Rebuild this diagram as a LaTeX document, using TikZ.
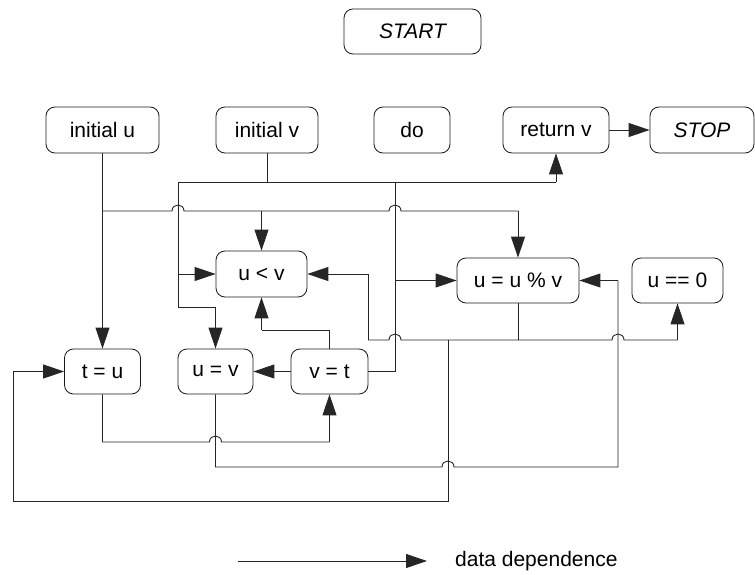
\documentclass[tikz,border=0pt]{standalone}
\usepackage{fontspec}
\setmainfont{Liberation Sans}
\usetikzlibrary{arrows.meta}
\newcommand\hh[2]{-- ({#1-6},#2) .. controls ({#1-6},{#2-8}) and ({#1+6},{#2-8}) .. ({#1+6},#2)}
\begin{document}
\begin{tikzpicture}[x=1pt,y=-1pt,
  box/.style={draw=black!90, rounded corners=9pt, minimum height=45pt, inner sep=0pt,
    font=\fontsize{21}{25}\selectfont, line width=0.8pt},
  link/.style={line width=0.9pt, draw=black!85},
  arr/.style={link, -{Triangle[length=21pt,width=14pt]}},
]
\useasboundingbox (0,0) rectangle (755,575);
% nodes
\node[box, minimum width=137pt] (start) at (412.5,31.5) {\itshape START};
\node[box, minimum width=113pt, minimum height=46pt] (iu) at (102.5,130) {initial u};
\node[box, minimum width=102pt, minimum height=46pt] (iv) at (267,130) {initial v};
\node[box, minimum width=76pt, minimum height=46pt] (do) at (412,130) {do};
\node[box, minimum width=106pt, minimum height=46pt] (ret) at (556,130) {return v};
\node[box, minimum width=104pt, minimum height=46pt] (stop) at (702,130) {\itshape STOP};
\node[box, minimum width=91pt, minimum height=46pt] (ult) at (261.5,274) {u < v};
\node[box, minimum width=122pt] (umod) at (518,280.5) {u = u \% v};
\node[box, minimum width=91pt] (ueq) at (677.5,280.5) {u == 0};
\node[box, minimum width=76pt] (tu) at (102.5,371.5) {t = u};
\node[box, minimum width=75pt] (uv) at (215.5,371.5) {u = v};
\node[box, minimum width=77pt] (vt) at (329.5,371.5) {v = t};
% junctions
\coordinate (a1) at (102.5,211);
\coordinate (a2) at (261.5,211);
\coordinate (a3) at (518,211);
\coordinate (b0) at (178,182);
\coordinate (b1) at (267,182);
\coordinate (b2) at (556,182);
\coordinate (b3) at (178,307);
\coordinate (b4) at (215.5,307);
\coordinate (b5) at (178,274);
\coordinate (b6) at (395,182);
\coordinate (b7) at (395,371.5);
\coordinate (b8) at (395,280.5);
\coordinate (c0) at (368,340);
\coordinate (c1) at (518,340);
\coordinate (c2) at (677.5,340);
\coordinate (c3) at (368,274);
\coordinate (c4) at (448,340);
\coordinate (c5) at (448,501);
\coordinate (c6) at (13,501);
\coordinate (c7) at (13,371.5);
\coordinate (d1) at (102.5,442);
\coordinate (d2) at (329.5,442);
\coordinate (e1) at (215.5,467);
\coordinate (e2) at (618,467);
\coordinate (e3) at (618,280.5);
\coordinate (f1) at (329.5,330);
\coordinate (f2) at (261.5,330);
% initial u
\draw[arr] (iu.south) -- (tu.north);
\draw[link] (a1) \hh{178}{211} \hh{395}{211} -- (a3);
\draw[arr] (a2) -- (ult.north);
\draw[arr] (a3) -- (umod.north);
% initial v
\draw[link] (iv.south) -- (b1);
\draw[link] (b0) -- (b2);
\draw[arr] (b2) -- (ret.south);
\draw[link] (b0) -- (b3) -- (b4);
\draw[arr] (b4) -- (uv.north);
\draw[arr] (b5) -- (ult.west);
\draw[link] (b6) -- (b7) -- (vt.east);
\draw[arr] (b8) -- (umod.west);
% u = u % v
\draw[link] (umod.south) -- (c1);
\draw[link] (c0) \hh{395}{340} \hh{618}{340} -- (c2);
\draw[arr] (c2) -- (ueq.south);
\draw[link] (c0) -- (c3);
\draw[arr] (c3) -- (ult.east);
\draw[link] (c4) -- (c5) -- (c6) -- (c7);
\draw[arr] (c7) -- (tu.west);
% t = u
\draw[link] (tu.south) -- (d1) \hh{215.5}{442} -- (d2);
\draw[arr] (d2) -- (vt.south);
% u = v
\draw[link] (uv.south) -- (e1) \hh{448}{467} -- (e2) -- (e3);
\draw[arr] (e3) -- (umod.east);
% v = t
\draw[link] (vt.north) -- (f1) -- (f2);
\draw[arr] (f2) -- (ult.south);
\draw[arr] (vt.west) -- (uv.east);
% return
\draw[arr] (ret.east) -- (stop.west);
% legend
\coordinate (l1) at (238,561);
\coordinate (l2) at (427,561);
\draw[arr] (l1) -- (l2);
\node[anchor=west, inner sep=0pt, font=\fontsize{21}{25}\selectfont] (leg) at (455,561) {data dependence};
\end{tikzpicture}
\end{document}
